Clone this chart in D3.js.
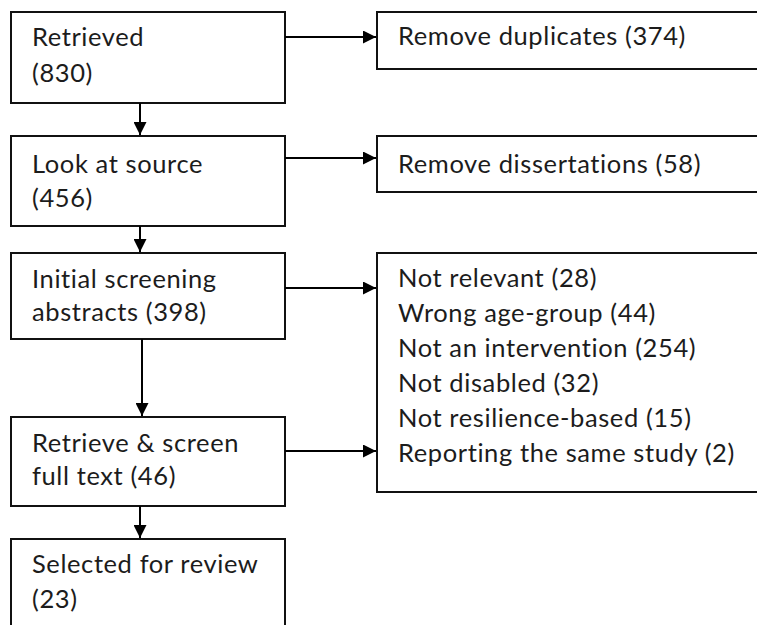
<!DOCTYPE html>
<html><head><meta charset="utf-8">
<script src="https://cdn.jsdelivr.net/npm/d3@7"></script>
<style>html,body{margin:0;padding:0;background:#fff;overflow:hidden}</style>
</head><body>
<svg id="c" width="757" height="625"></svg>
<script>
// ---- data ----
const stageLabels = [["Retrieved", "(830)"], ["Look at source", "(456)"], ["Initial screening", "abstracts (398)"], ["Retrieve & screen", "full text (46)"], ["Selected for review", "(23)"]];
const exclusionLabels = [["Remove duplicates (374)"], ["Remove dissertations (58)"], ["Not relevant (28)", "Wrong age-group (44)", "Not an intervention (254)", "Not disabled (32)", "Not resilience-based (15)", "Reporting the same study (2)"]];
const exclusionFrom = [0, 1, 2, 3]; // stage index with an exclusion arrow
const exclusionTo = [0, 1, 2, 2];

// ---- layout ----
const leftBoxes = [ {y0: 12, y1: 103}, {y0: 136, y1: 226}, {y0: 253, y1: 339}, {y0: 417, y1: 506}, {y0: 539, y1: 640} ];
const leftX0 = 11, leftX1 = 285;
const rightBoxes = [ {y0: 12, y1: 69}, {y0: 136, y1: 192}, {y0: 253, y1: 492} ];
const rightX0 = 377, rightX1 = 770;
const arrowY = [37, 158, 288, 451];
const vArrowX = [140, 140, 142, 140];
const leftBaselines = [[46, 82], [173, 207], [288, 321], [452, 485], [573, 608]];
const rightBaselines = [[45], [173], [287, 322, 357, 392, 427, 462]];

const svg = d3.select("#c");
const font = "Lato, 'Open Sans', sans-serif";
const fs = 25.5;
const ls = 0.6;

svg.append("defs").append("marker")
  .attr("id", "ah").attr("viewBox", "0 0 10 10").attr("refX", 10).attr("refY", 5)
  .attr("markerWidth", 7).attr("markerHeight", 6.5).attr("markerUnits", "strokeWidth").attr("orient", "auto")
  .append("path").attr("d", "M0,0 L10,5 L0,10 Z").attr("fill", "#000");

const yScaleL = d3.scaleOrdinal().domain(d3.range(stageLabels.length)).range(leftBoxes);

// left boxes
svg.selectAll("rect.l").data(stageLabels).join("rect").attr("class", "l")
  .attr("x", leftX0).attr("y", (d, i) => yScaleL(i).y0)
  .attr("width", leftX1 - leftX0).attr("height", (d, i) => yScaleL(i).y1 - yScaleL(i).y0)
  .attr("fill", "#fff").attr("stroke", "#111").attr("stroke-width", 2);

// right boxes
svg.selectAll("rect.r").data(exclusionLabels).join("rect").attr("class", "r")
  .attr("x", rightX0).attr("y", (d, i) => rightBoxes[i].y0)
  .attr("width", rightX1 - rightX0).attr("height", (d, i) => rightBoxes[i].y1 - rightBoxes[i].y0)
  .attr("fill", "#fff").attr("stroke", "#111").attr("stroke-width", 2);

// texts
stageLabels.forEach((lines, i) => {
  svg.append("g").selectAll("text").data(lines).join("text")
    .attr("x", 32).attr("y", (d, j) => leftBaselines[i][j])
    .attr("font-family", font).attr("font-size", fs).attr("letter-spacing", ls)
    .attr("fill", "#1c1c1c").text(d => d);
});
exclusionLabels.forEach((lines, i) => {
  svg.append("g").selectAll("text").data(lines).join("text")
    .attr("x", 398).attr("y", (d, j) => rightBaselines[i][j])
    .attr("font-family", font).attr("font-size", fs).attr("letter-spacing", ls)
    .attr("fill", "#1c1c1c").text(d => d);
});

// vertical arrows
d3.range(stageLabels.length - 1).forEach(i => {
  svg.append("line").attr("x1", vArrowX[i]).attr("x2", vArrowX[i])
    .attr("y1", leftBoxes[i].y1).attr("y2", leftBoxes[i + 1].y0 - 1)
    .attr("stroke", "#000").attr("stroke-width", 2).attr("marker-end", "url(#ah)");
});
// horizontal arrows
exclusionFrom.forEach((s, k) => {
  svg.append("line").attr("x1", leftX1).attr("x2", rightX0 - 1)
    .attr("y1", arrowY[k]).attr("y2", arrowY[k])
    .attr("stroke", "#000").attr("stroke-width", 2).attr("marker-end", "url(#ah)");
});
</script>
</body></html>
